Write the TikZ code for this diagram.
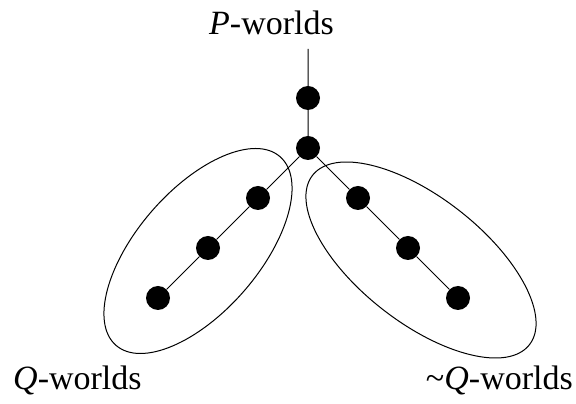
\documentclass[tikz,border=0pt]{standalone}
\usepackage{fontspec}
\setmainfont{Liberation Serif}
\usetikzlibrary{positioning}

\begin{document}
\begin{tikzpicture}[x=1pt, y=1pt, node distance=50pt, on grid,
		every world/.style={circle, fill=black, inner sep=0pt, minimum size=24pt},
		label text/.style={inner sep=0pt, anchor=base, font=\fontsize{34}{40}\selectfont}]
		\useasboundingbox (0,0) rectangle (576,404);
		\node[every world](p1) at (308,306) {};
		\node[every world](p2)[below=of p1]{};
		\node[every world](q1)[below left=50pt and 50pt of p2]{};
		\node[every world](q2)[below left=50pt and 50pt of q1]{};
		\node[every world](q3)[below left=50pt and 50pt of q2]{};
		\node[every world](r1)[below right=50pt and 50pt of p2]{};
		\node[every world](r2)[below right=50pt and 50pt of r1]{};
		\node[every world](r3)[below right=50pt and 50pt of r2]{};
		\coordinate (ptop) at (308,355);
		\draw[line width=1pt] (ptop) -- (p1) -- (p2)
		(p2) -- (q1) -- (q2) -- (q3)
		(p2) -- (r1) -- (r2) -- (r3);
		% the two sets of worlds
		\draw[line width=1pt, rotate around={49:(198,153)}] (198,153) ellipse (125 and 61);
		\draw[line width=1pt, rotate around={-38:(421,144)}] (421,144) ellipse (137.6 and 62.5);
		\node[label text](plabel) at (271.5,369) {\textit{P}-worlds};
		\node[label text, anchor=base west](qlabel) at (13,14) {\textit{Q}-worlds};
		\node[label text, anchor=base east](nqlabel) at (573,14) {\textasciitilde\textit{Q}-worlds};
	\end{tikzpicture}
\end{document}
